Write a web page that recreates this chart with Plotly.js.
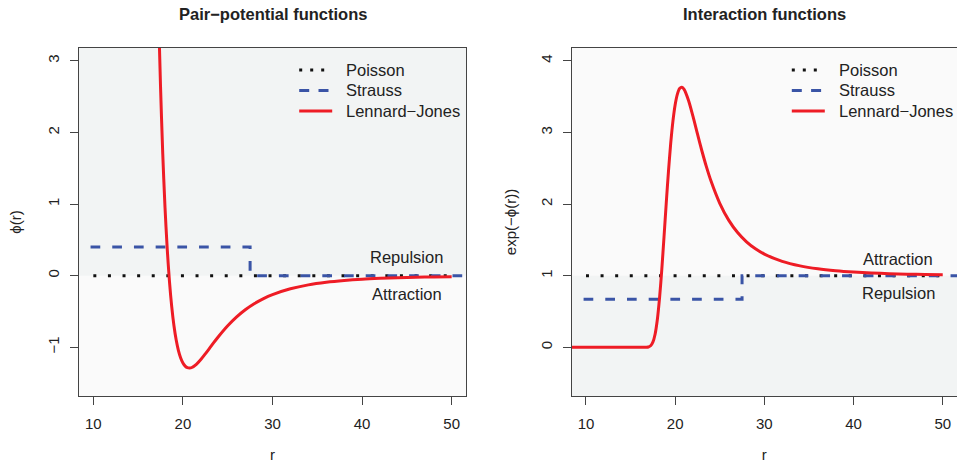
<!DOCTYPE html>
<html><head><meta charset="utf-8">
<script src="https://cdn.plot.ly/plotly-3.0.1.min.js"></script>
<style>html,body{margin:0;padding:0;background:#fff}#chart{width:957px;height:466px}</style>
</head><body><div id="chart"></div>
<script>
// ---- data ----
const rLJ = [8,10,12,14,15,16,16.5,16.75,17,17.25,17.5,17.75,18,18.25,18.5,18.75,19,19.25,19.5,19.75,20,20.25,20.5,20.75,21,21.5,22,22.5,23,23.5,24,25,26,27,28,29,30,32,34,36,38,40,42,44,46,48,50];
const phiLJ = [115900,7819,832.2,114.6,44.0,16.39,9.63,7.24,5.347,3.840,2.645,1.700,0.956,0.372,-0.082,-0.432,-0.699,-0.899,-1.046,-1.150,-1.220,-1.263,-1.285,-1.290,-1.282,-1.238,-1.171,-1.092,-1.009,-0.925,-0.845,-0.699,-0.575,-0.472,-0.388,-0.319,-0.264,-0.183,-0.128,-0.092,-0.067,-0.049,-0.037,-0.028,-0.021,-0.017,-0.013];
const expLJ = [0,0,0,0,0,0,0.00007,0.0007,0.0048,0.0215,0.0710,0.1827,0.3846,0.6891,1.0852,1.5404,2.0119,2.4579,2.8465,3.1587,3.3879,3.5368,3.6143,3.6321,3.6028,3.4477,3.2240,2.9796,2.7416,2.5230,2.3285,2.0117,1.7766,1.6030,1.4737,1.3764,1.3022,1.2003,1.1370,1.0962,1.0690,1.0504,1.0375,1.0283,1.0216,1.0167,1.0131];
const rStrauss = [0,27.5,27.5,52];
const phiStrauss = [0.4,0.4,0,0];
const expStrauss = [0.67,0.67,1,1];
const rPoisson = [10,50];
const phiPoisson = [0,0];
const expPoisson = [1,1];
const seriesNames = ['Poisson','Strauss','Lennard\u2212Jones'];
const xTicks = [10,20,30,40,50];
const yTicksLeft = [-1,0,1,2,3];
const yTicksRight = [0,1,2,3,4];
const panelTitles = ['Pair\u2212potential functions','Interaction functions'];
const yTitles = ['\u03d5(r)','exp(\u2212\u03d5(r))'];

// ---- styles ----
const W = 957, H = 466;
const FONT = 'Liberation Sans, Arial, Helvetica, sans-serif';
const TXT = '#222';
const RED = '#ee1c25', BLUE = '#3a54a6', BLACK = '#111';
const GRAY_BG = '#f2f4f4', LIGHT_BG = '#fafafa';
const px = v => v / W, py = v => 1 - v / H;

const styles = [
  {color: BLACK, width: 3, dash: '3px,11.6px'},
  {color: BLUE, width: 3, dash: '9.7px,12px'},
  {color: RED, width: 3, dash: 'solid', shape: 'spline', smoothing: 0.8}
];

const traces = [
  {x: rPoisson, y: phiPoisson, xaxis: 'x', yaxis: 'y', name: seriesNames[0], line: styles[0]},
  {x: rStrauss, y: phiStrauss, xaxis: 'x', yaxis: 'y', name: seriesNames[1], line: styles[1]},
  {x: rLJ, y: phiLJ, xaxis: 'x', yaxis: 'y', name: seriesNames[2], line: styles[2]},
  {x: rPoisson, y: expPoisson, xaxis: 'x2', yaxis: 'y2', name: seriesNames[0], line: styles[0]},
  {x: rStrauss, y: expStrauss, xaxis: 'x2', yaxis: 'y2', name: seriesNames[1], line: styles[1]},
  {x: rLJ, y: expLJ, xaxis: 'x2', yaxis: 'y2', name: seriesNames[2], line: styles[2]}
].map(t => Object.assign({type: 'scatter', mode: 'lines', hoverinfo: 'skip', showlegend: false}, t));

const XR = [8.4, 51.6];
const axisBase = {
  showgrid: false, zeroline: false, showline: true, linecolor: '#444', linewidth: 1,
  ticks: 'outside', ticklen: 8, tickcolor: '#444', tickwidth: 1,
  tickfont: {family: FONT, size: 15, color: TXT}, fixedrange: true, automargin: false
};
const xdomL = [px(79), px(466)], xdomR = [px(571.7), 1];
const ydom = [1 - 396 / H, 1 - 48 / H];

const layout = {
  width: W, height: H, margin: {l: 0, r: 0, t: 0, b: 0},
  paper_bgcolor: '#ffffff', plot_bgcolor: LIGHT_BG, showlegend: false,
  font: {family: FONT, color: TXT},
  xaxis: Object.assign({}, axisBase, {domain: xdomL, range: XR, tickvals: xTicks, anchor: 'y', mirror: true, ticklabelstandoff: 6,
    title: {text: 'r', font: {family: FONT, size: 15, color: TXT}, standoff: 18}}),
  yaxis: Object.assign({}, axisBase, {domain: ydom, range: [-1.68, 3.18], tickvals: yTicksLeft, anchor: 'x', mirror: true, tickangle: -90, ticklabelstandoff: 5,
    title: {text: yTitles[0], font: {family: FONT, size: 15, color: TXT}, standoff: 19}}),
  xaxis2: Object.assign({}, axisBase, {domain: xdomR, range: XR, tickvals: xTicks, anchor: 'y2', mirror: true, ticklabelstandoff: 6,
    title: {text: 'r', font: {family: FONT, size: 15, color: TXT}, standoff: 18}}),
  yaxis2: Object.assign({}, axisBase, {domain: ydom, range: [-0.68, 4.18], tickvals: yTicksRight, anchor: 'x2', mirror: false, tickangle: -90, ticklabelstandoff: 5,
    title: {text: yTitles[1], font: {family: FONT, size: 15, color: TXT}, standoff: 17}}),
  shapes: [],
  annotations: []
};

// background bands (repulsion / attraction regions)
layout.shapes.push({type: 'rect', xref: 'x', yref: 'y', x0: XR[0], x1: XR[1], y0: 0, y1: 3.18, fillcolor: GRAY_BG, line: {width: 0}, layer: 'below'});
layout.shapes.push({type: 'rect', xref: 'x2', yref: 'y2', x0: XR[0], x1: XR[1], y0: -0.68, y1: 1, fillcolor: GRAY_BG, line: {width: 0}, layer: 'below'});

// panel titles
const ann = (text, x, y, opts) => Object.assign({text, x: px(x), y: py(y), xref: 'paper', yref: 'paper', showarrow: false,
  borderpad: 0, borderwidth: 0, xanchor: 'center', yanchor: 'middle', font: {family: FONT, size: 16.5, color: TXT}}, opts || {});
layout.annotations.push(ann('<b>' + panelTitles[0] + '</b>', 272.5, 13.6));
layout.annotations.push(ann('<b>' + panelTitles[1] + '</b>', 764.5, 13.6));

// legends
const legRows = [70, 90.5, 111];
const legendSample = [
  {color: BLACK, width: 3, dash: '3px,8px'},
  {color: BLUE, width: 3, dash: '10px,9.3px'},
  {color: RED, width: 3, dash: 'solid'}
];
const legendEnds = [25.5, 33, 33];
[[299.2, 346.4], [791.8, 838.7]].forEach(([lx0, tx]) => {
  seriesNames.forEach((name, i) => {
    layout.shapes.push({type: 'line', xref: 'paper', yref: 'paper', x0: px(lx0), x1: px(lx0 + legendEnds[i]), y0: py(legRows[i]), y1: py(legRows[i]), line: legendSample[i], layer: 'above'});
    layout.annotations.push(ann(name, tx, legRows[i], {xanchor: 'left'}));
  });
});

// region labels
layout.annotations.push(Object.assign(ann('Repulsion', 0, 0), {xref: 'x', yref: 'y', x: 45, y: 0.263}));
layout.annotations.push(Object.assign(ann('Attraction', 0, 0), {xref: 'x', yref: 'y', x: 45, y: -0.249}));
layout.annotations.push(Object.assign(ann('Attraction', 0, 0), {xref: 'x2', yref: 'y2', x: 45, y: 1.233}));
layout.annotations.push(Object.assign(ann('Repulsion', 0, 0), {xref: 'x2', yref: 'y2', x: 45, y: 0.753}));

Plotly.newPlot('chart', traces, layout, {staticPlot: true, displayModeBar: false});
</script>
</body></html>
